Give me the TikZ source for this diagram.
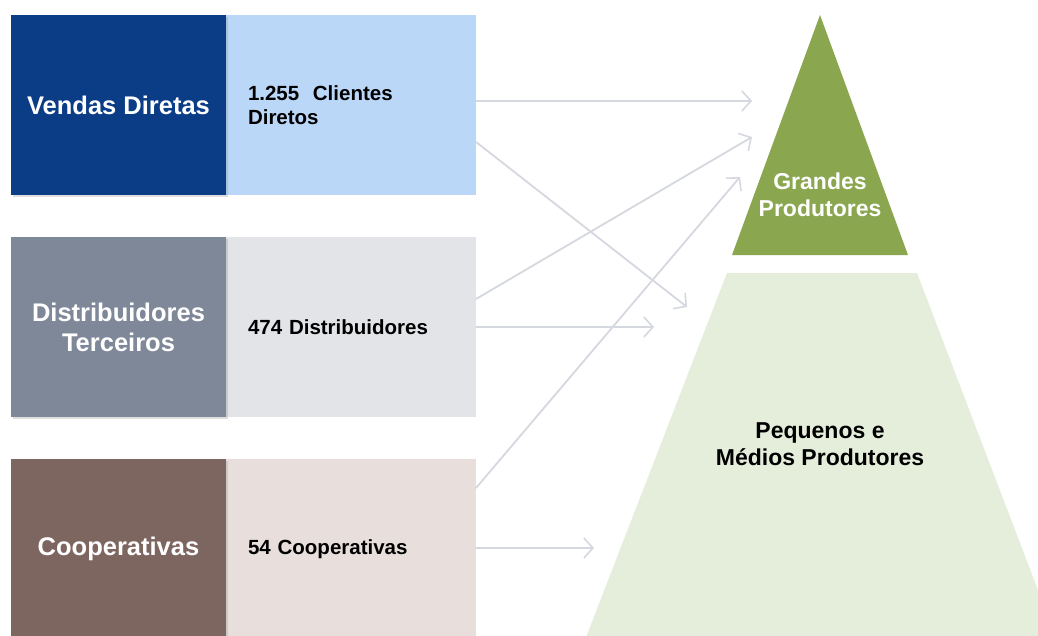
\documentclass[tikz,border=0pt]{standalone}
\usepackage{fontspec}
\setmainfont{Liberation Sans}
\usetikzlibrary{arrows.meta,shadows}
\definecolor{cDarkBlue}{HTML}{0B3C86}
\definecolor{cLightBlue}{HTML}{BBD7F8}
\definecolor{cSlate}{HTML}{7F8899}
\definecolor{cLightGrey}{HTML}{E3E4E8}
\definecolor{cBrown}{HTML}{7E6660}
\definecolor{cPink}{HTML}{E8DFDD}
\definecolor{cGreen}{HTML}{8AA74F}
\definecolor{cLightGreen}{HTML}{E5EDDB}
\definecolor{cArrow}{HTML}{D6D8DF}
\tikzset{
  darkbox/.style={minimum width=215pt, minimum height=180pt, inner sep=0pt, align=center,
    text=white, font=\fontsize{25.5}{30}\selectfont\bfseries,
    drop shadow={opacity=0.25, shadow xshift=2pt, shadow yshift=-2pt}},
  lightbox/.style={minimum width=250pt, minimum height=180pt, inner xsep=22pt, inner ysep=0pt,
    text width=206pt, align=left, text=black, font=\fontsize{20.5}{24}\selectfont\bfseries},
  flow/.style={draw=cArrow, line width=1.8pt, -{Straight Barb[length=9pt,width=20pt,line width=1.6pt]}},
  pyrtext/.style={align=center, font=\fontsize{23}{26.5}\selectfont\bfseries}
}
\begin{document}
\begin{tikzpicture}[x=1pt,y=-1pt]
\useasboundingbox (0,0) rectangle (1038,635);
\clip (0,0) rectangle (1038,635);
\fill[white] (0,0) rectangle (1038,635);
% light boxes
\node[lightbox, fill=cLightBlue] (lb1) at (351,105) {1.255\ \ Clientes\\Diretos};
\node[lightbox, fill=cLightGrey] (lb2) at (351,327) {474 Distribuidores};
\node[lightbox, fill=cPink] (lb3) at (351,549) {54 Cooperativas};
% dark boxes
\node[darkbox, fill=cDarkBlue] (db1) at (118.5,105) {Vendas Diretas};
\node[darkbox, fill=cSlate] (db2) at (118.5,327) {Distribuidores\\Terceiros};
\node[darkbox, fill=cBrown] (db3) at (118.5,549) {Cooperativas};
% pyramid
\fill[cGreen] (820,15) -- (908,255) -- (732,255) -- cycle;
\fill[cLightGreen] (727,273) -- (917,273) -- (1057,640) -- (585,640) -- cycle;
\node[pyrtext, text=white] (gp) at (820,195) {Grandes\\Produtores};
\node[pyrtext, text=black] (pm) at (820,444) {Pequenos e\\Médios Produtores};
% arrow end points
\coordinate (s1) at (476,101);
\coordinate (s2) at (476,142);
\coordinate (s3) at (476,299);
\coordinate (s4) at (476,327);
\coordinate (s5) at (476,488);
\coordinate (s6) at (476,548);
\coordinate (e1) at (752,101);
\coordinate (e2) at (687,307);
\coordinate (e3) at (752,137);
\coordinate (e4) at (654,327);
\coordinate (e5) at (740,177);
\coordinate (e6) at (594,548);
\draw[flow] (s1) -- (e1);
\draw[flow] (s2) -- (e2);
\draw[flow] (s3) -- (e3);
\draw[flow] (s4) -- (e4);
\draw[flow] (s5) -- (e5);
\draw[flow] (s6) -- (e6);
\end{tikzpicture}
\end{document}
